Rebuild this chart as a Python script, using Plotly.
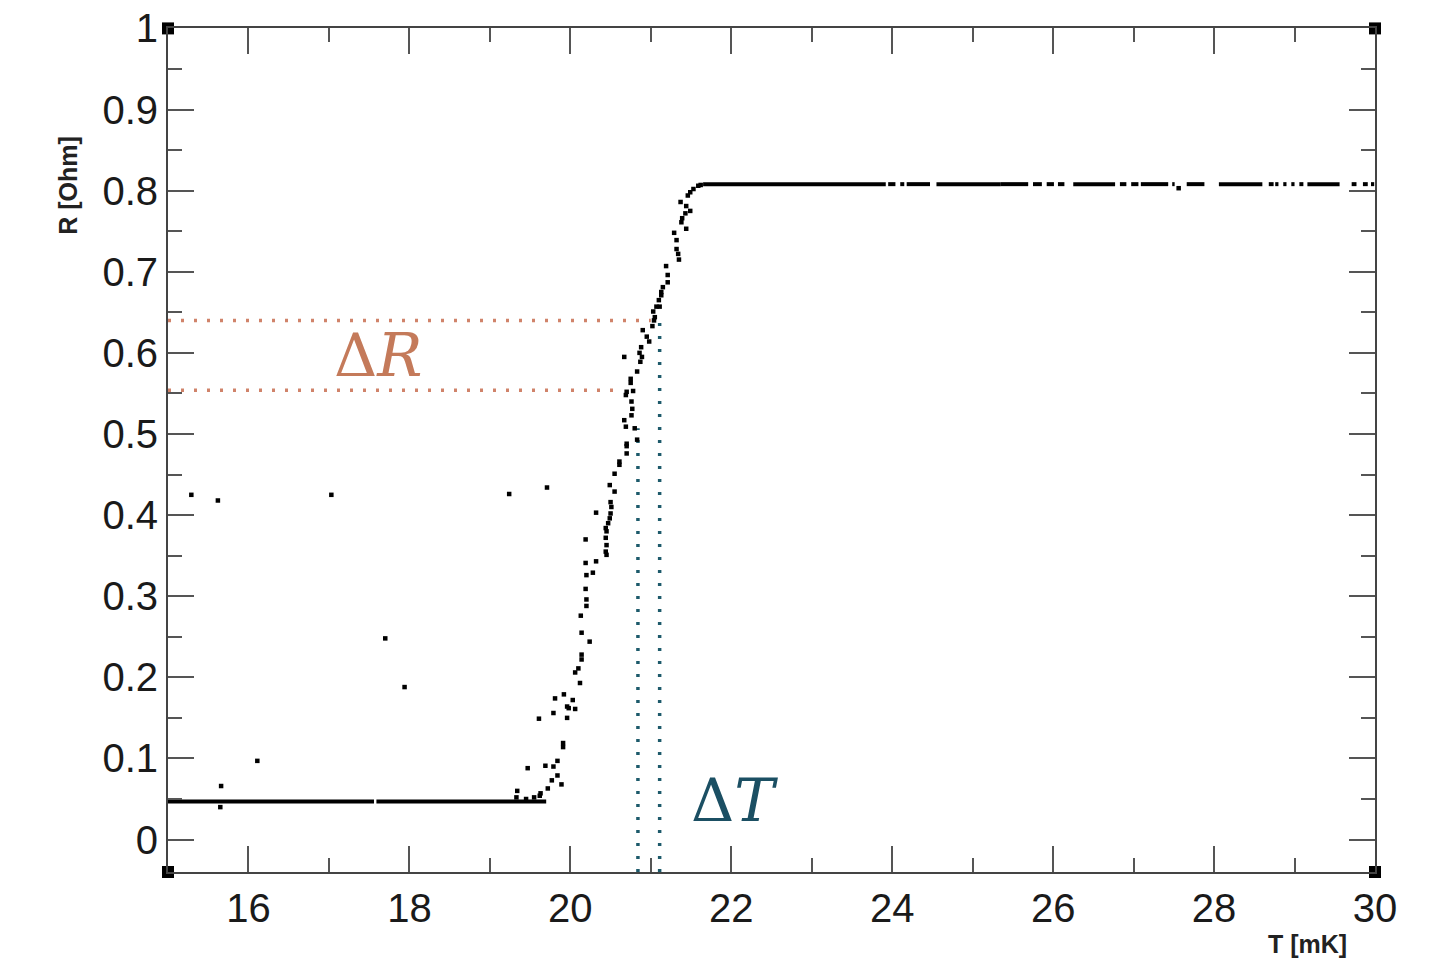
import plotly.graph_objects as go

# ---------------- data ----------------
# scattered outlier points
outlier_T = [15.29, 15.62, 17.03, 19.24, 19.71, 17.70, 17.94, 16.11, 15.66, 15.65]
outlier_R = [0.425, 0.418, 0.425, 0.426, 0.434, 0.248, 0.188, 0.097, 0.066, 0.040]

# transition points
trans_T = [19.33, 19.34, 19.47, 19.45, 19.55, 19.62, 19.63, 19.61, 19.69, 19.72, 19.77, 19.79,
           19.79, 19.81, 19.84, 19.84, 19.89, 19.91, 19.91, 19.92, 19.96, 19.96, 19.98, 20.03,
           20.06, 20.06, 20.10, 20.12, 20.14, 20.14, 20.24, 20.14, 20.13, 20.20, 20.20, 20.19,
           20.20, 20.28, 20.19, 20.32, 20.45, 20.44, 20.45, 20.44, 20.19, 20.45, 20.44, 20.47,
           20.49, 20.32, 20.50, 20.51, 20.50, 20.55, 20.49, 20.55, 20.61, 20.61, 20.70, 20.70,
           20.70, 20.83, 20.80, 20.69, 20.67, 20.76, 20.77, 20.76, 20.78, 20.70, 20.69, 20.75,
           20.75, 20.83, 20.67, 20.87, 20.86, 20.89, 20.88, 20.98, 20.95, 20.90, 21.02, 21.04,
           21.05, 21.03, 21.07, 21.11, 21.10, 21.13, 21.13, 21.15, 21.21, 21.21, 21.19, 21.35,
           21.34, 21.32, 21.32, 21.29, 21.44, 21.38, 21.39, 21.43, 21.49, 21.44, 21.37, 21.46,
           21.49, 21.53, 21.59, 21.62, 27.56]
trans_R = [0.052, 0.060, 0.088, 0.050, 0.052, 0.054, 0.057, 0.149, 0.091, 0.063, 0.073, 0.090,
           0.156, 0.174, 0.097, 0.079, 0.068, 0.119, 0.114, 0.179, 0.164, 0.150, 0.162, 0.172,
           0.161, 0.206, 0.211, 0.193, 0.222, 0.228, 0.244, 0.255, 0.276, 0.288, 0.296, 0.309,
           0.326, 0.329, 0.341, 0.343, 0.351, 0.355, 0.363, 0.372, 0.370, 0.380, 0.384, 0.390,
           0.396, 0.403, 0.402, 0.410, 0.416, 0.429, 0.437, 0.451, 0.462, 0.466, 0.476, 0.485,
           0.488, 0.493, 0.507, 0.509, 0.517, 0.523, 0.531, 0.540, 0.553, 0.552, 0.548, 0.563,
           0.568, 0.577, 0.595, 0.589, 0.600, 0.595, 0.607, 0.614, 0.620, 0.628, 0.633, 0.640,
           0.644, 0.651, 0.657, 0.657, 0.665, 0.671, 0.675, 0.681, 0.687, 0.696, 0.707, 0.715,
           0.722, 0.728, 0.739, 0.748, 0.753, 0.761, 0.766, 0.772, 0.775, 0.781, 0.786, 0.794,
           0.798, 0.802, 0.806, 0.807, 0.803]

# dense plateaus (runs of overlapping points), start/end temperatures
low_R = 0.047
low_start = [15.00, 17.59]
low_end = [17.56, 19.70]

high_R = 0.808
high_start = [21.65, 23.95, 24.10, 24.18, 24.55, 25.35, 25.75, 25.92, 26.06, 26.25, 26.83,
              26.97, 27.09, 27.48, 27.66, 28.06, 28.68, 28.76, 28.86, 28.96, 29.06, 29.16,
              29.71, 29.85, 29.95]
high_end = [23.92, 24.04, 24.15, 24.47, 25.35, 25.69, 25.86, 26.01, 26.14, 26.77, 26.91,
            27.06, 27.43, 27.51, 27.88, 28.60, 28.74, 28.80, 28.90, 29.00, 29.11, 29.56,
            29.77, 29.91, 29.99]

# guide lines
dR_levels = [0.640, 0.554]
dR_ends = [21.00, 20.65]
dT_positions = [20.84, 21.11]
dT_tops = [0.507, 0.643]

# axes
x_range = [15, 30]
y_range = [-0.04, 1.0005]
y_tickvals = [0, 0.1, 0.2, 0.3, 0.4, 0.5, 0.6, 0.7, 0.8, 0.9, 1.0]
y_ticktext = ["0", "0.1", "0.2", "0.3", "0.4", "0.5", "0.6", "0.7", "0.8", "0.9", "1"]

# ---------------- figure ----------------
def segments(starts, ends, level):
    xs, ys = [], []
    for s, e in zip(starts, ends):
        xs += [s, e, None]
        ys += [level, level, None]
    return xs, ys

fig = go.Figure()

dot_col_R = "#d0836a"
dot_col_T = "#1d5a6b"

for lvl, end in zip(dR_levels, dR_ends):
    fig.add_trace(go.Scatter(x=[x_range[0], end], y=[lvl, lvl], mode="lines",
                             line=dict(color=dot_col_R, width=3.5, dash="3px,10px"),
                             hoverinfo="skip", showlegend=False))
for xp, top in zip(dT_positions, dT_tops):
    fig.add_trace(go.Scatter(x=[xp, xp], y=[-0.04, top], mode="lines",
                             line=dict(color=dot_col_T, width=3.5, dash="3px,10px"),
                             hoverinfo="skip", showlegend=False))

lx, ly = segments(low_start, low_end, low_R)
fig.add_trace(go.Scatter(x=lx, y=ly, mode="lines", line=dict(color="black", width=4),
                         showlegend=False, connectgaps=False))
hx, hy = segments(high_start, high_end, high_R)
fig.add_trace(go.Scatter(x=hx, y=hy, mode="lines", line=dict(color="black", width=4),
                         showlegend=False, connectgaps=False))

fig.add_trace(go.Scatter(x=trans_T, y=trans_R, mode="markers",
                         marker=dict(symbol="square", size=4.5, color="black"),
                         showlegend=False))
fig.add_trace(go.Scatter(x=outlier_T, y=outlier_R, mode="markers",
                         marker=dict(symbol="square", size=4.5, color="black"),
                         showlegend=False))

# frame corner markers
fig.add_trace(go.Scatter(x=[x_range[0], x_range[1], x_range[0], x_range[1]],
                         y=[-0.04, -0.04, 1.0, 1.0],
                         mode="markers", marker=dict(symbol="square", size=12, color="black"),
                         cliponaxis=False, showlegend=False, hoverinfo="skip"))

axis_common = dict(showline=True, linecolor="#444", linewidth=2, mirror="ticks",
                   ticks="inside", tickcolor="#555", tickwidth=1.5, ticklen=26,
                   showgrid=False, zeroline=False, ticklabeloverflow="allow",
                   automargin=False,
                   tickfont=dict(family="Liberation Sans, Arial, sans-serif", size=40,
                                 color="#1a1a1a"))

fig.update_xaxes(range=x_range, tick0=16, dtick=2,
                 minor=dict(tick0=15, dtick=1, ticks="inside", ticklen=14,
                            tickcolor="#555", tickwidth=1.5, showgrid=False),
                 **axis_common)
fig.update_yaxes(range=y_range, tickmode="array", tickvals=y_tickvals, ticktext=y_ticktext,
                 minor=dict(tick0=0.05, dtick=0.1, ticks="inside", ticklen=14,
                            tickcolor="#555", tickwidth=1.5, showgrid=False),
                 **axis_common)

fig.add_annotation(text="Δ<i>R</i>", x=17.61, y=0.597, xref="x", yref="y",
                   xanchor="center", yanchor="middle",
                   showarrow=False, font=dict(family="DejaVu Serif, serif", size=60,
                                              color="#c47a5a"))
fig.add_annotation(text="Δ<i>T</i>", x=22.04, y=0.049, xref="x", yref="y",
                   xanchor="center", yanchor="middle",
                   showarrow=False, font=dict(family="DejaVu Serif, serif", size=60,
                                              color="#1b4f63"))
fig.add_annotation(text="<b>R [Ohm]</b>", x=-0.083, y=0.807, xref="paper", yref="y",
                   xanchor="center", yanchor="middle",
                   textangle=-90, showarrow=False,
                   font=dict(family="Liberation Sans, Arial, sans-serif", size=25, color="#222"))
fig.add_annotation(text="<b>T [mK]</b>", x=0.9437, y=-0.0853, xref="paper", yref="paper",
                   xanchor="center", yanchor="middle",
                   showarrow=False,
                   font=dict(family="Liberation Sans, Arial, sans-serif", size=25, color="#222"))

# page adds an 8px offset; margins compensate so the frame sits at 168..1375 x 28..872
fig.update_layout(width=1430, height=960, margin=dict(l=160, r=63, t=20, b=96, autoexpand=False),
                  plot_bgcolor="white", paper_bgcolor="white")

fig.write_html("out.html")
